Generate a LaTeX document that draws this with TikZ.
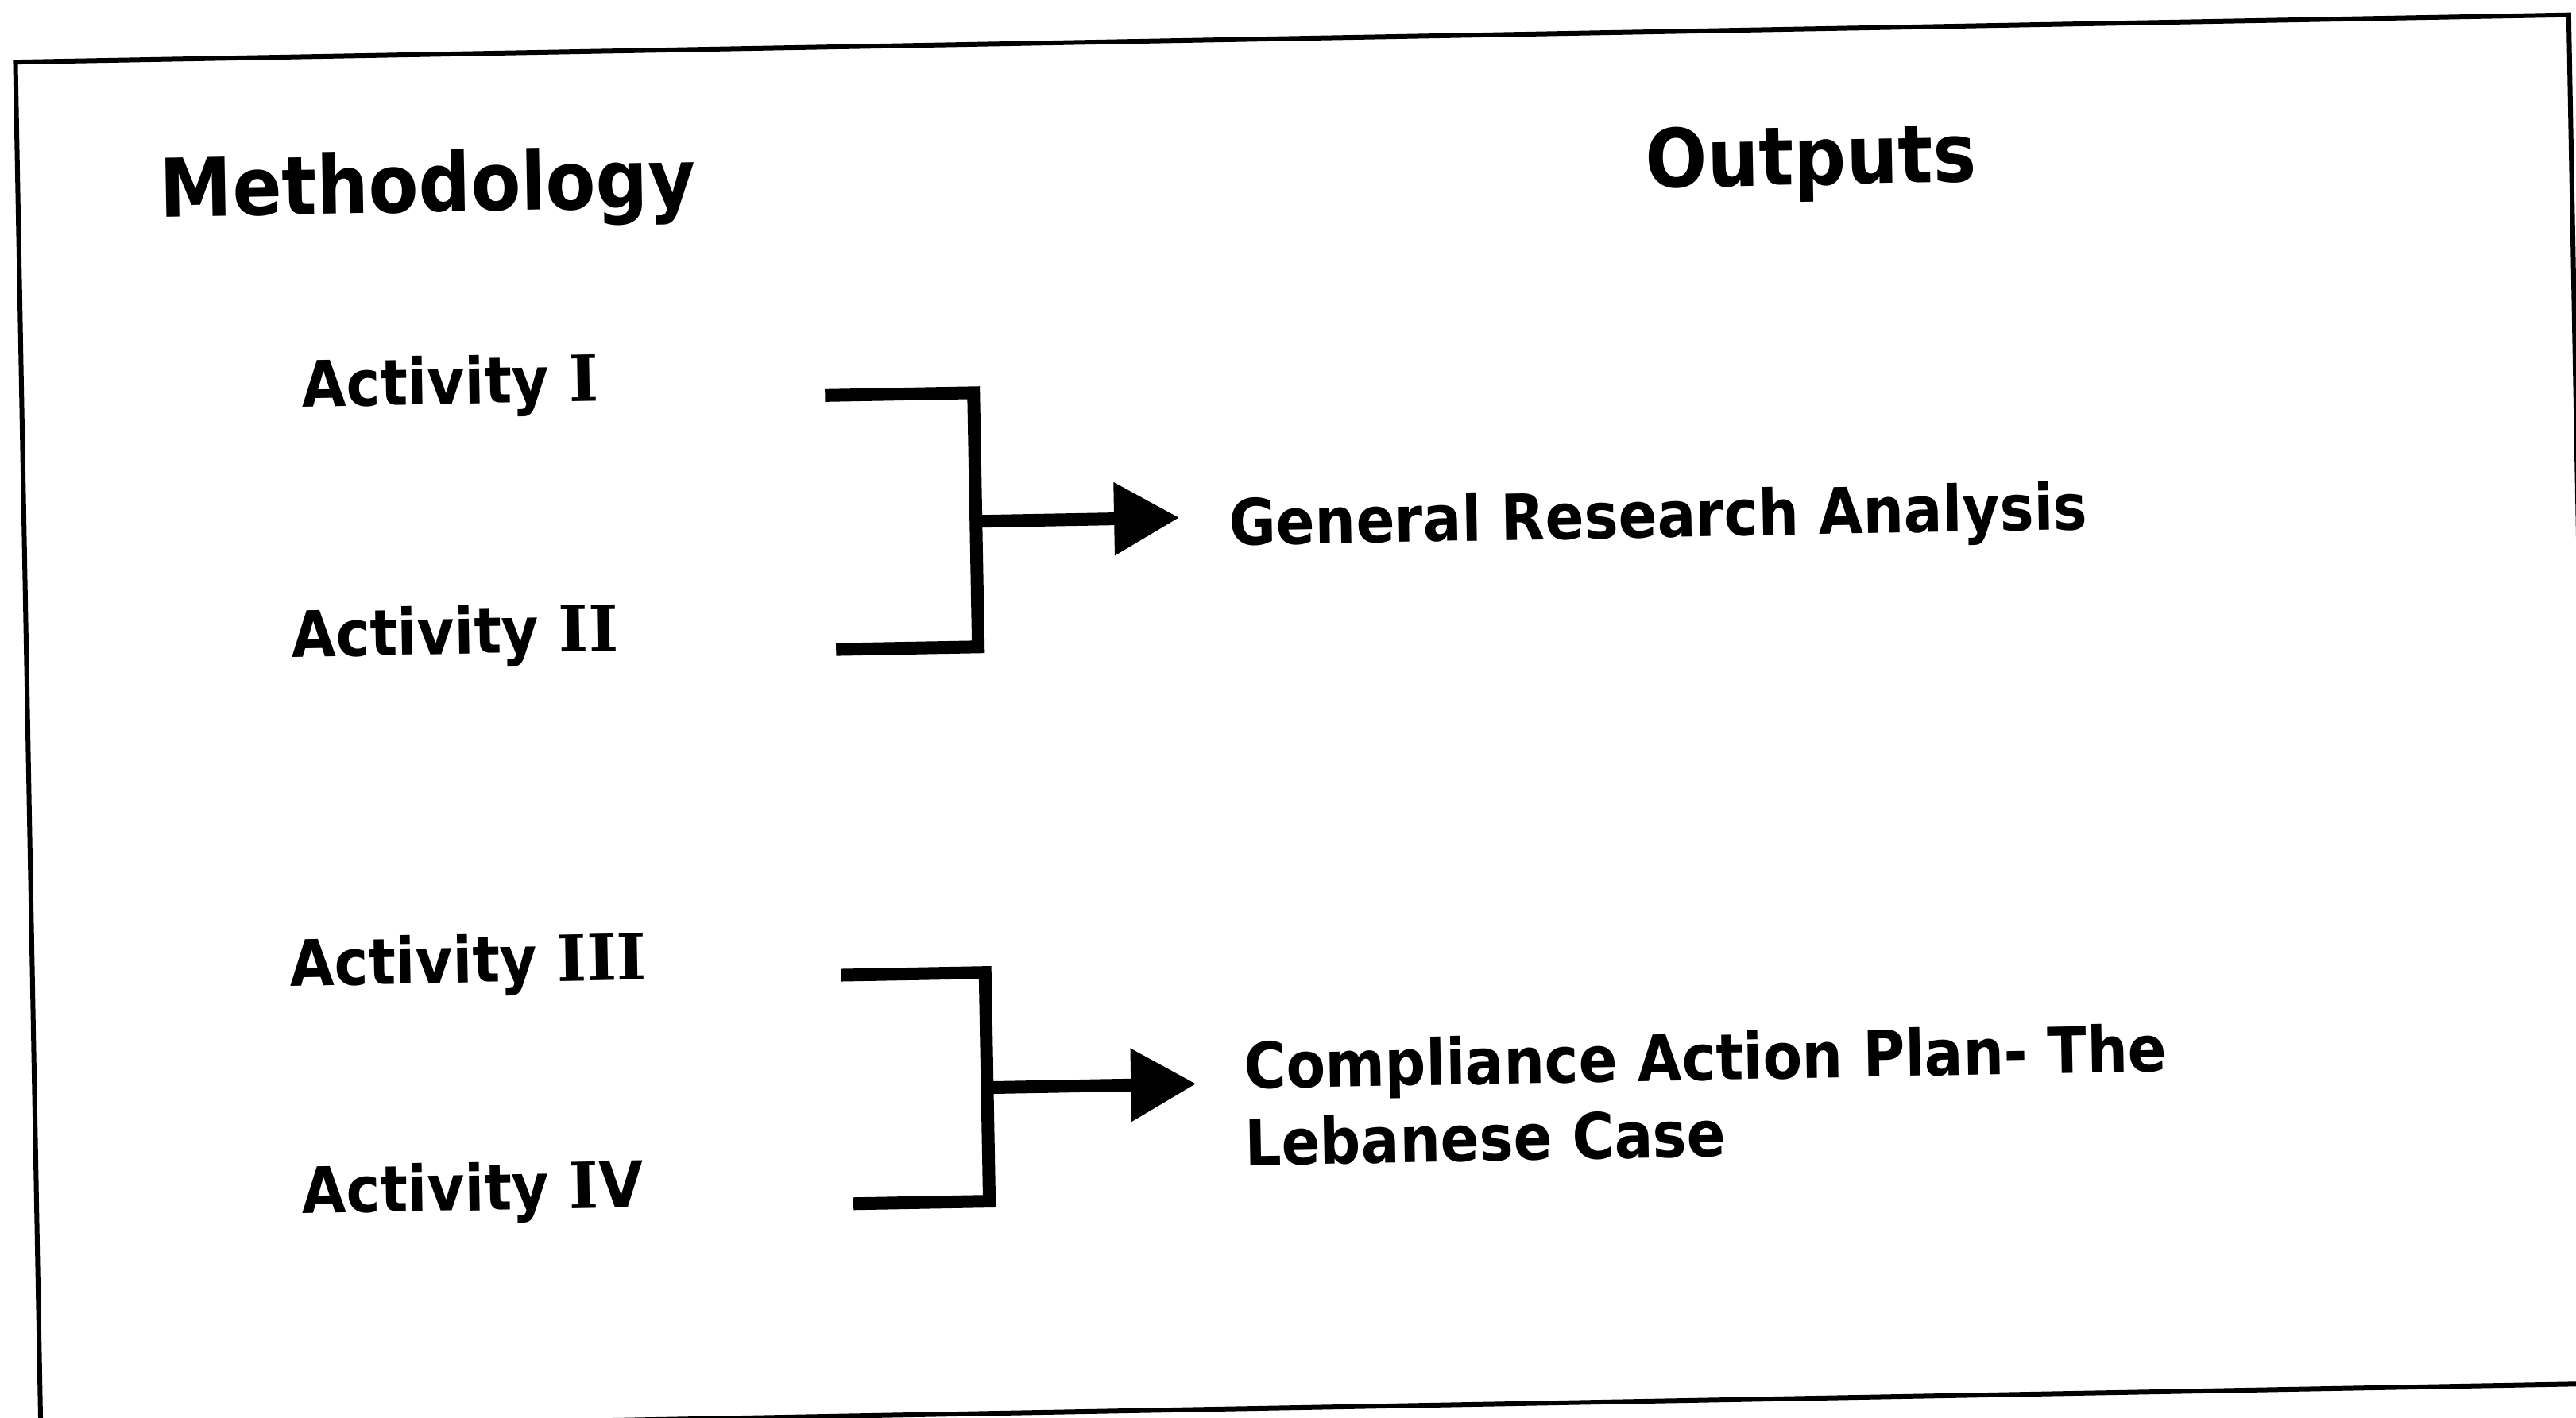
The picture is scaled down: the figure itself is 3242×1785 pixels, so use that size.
\documentclass[tikz,border=0pt]{standalone}
\usepackage{fontspec}
\newfontfamily\labfont{DejaVu Sans Condensed Bold}
\newfontfamily\serIfont{DejaVu Serif Bold}
\usetikzlibrary{arrows.meta}
\begin{document}
\begin{tikzpicture}[x=0.01cm,y=-0.01cm,
  head/.style={anchor=base west, inner sep=0pt, font=\labfont\fontsize{29}{34}\selectfont},
  lab/.style={anchor=base west, inner sep=0pt, font=\labfont\fontsize{22.8}{27.3}\selectfont},
  brk/.style={line width=0.16cm, line join=miter, line cap=butt},
  arr/.style={line width=0.16cm, -{Triangle[length=0.82cm,width=0.88cm]}},
  frm/.style={line width=0.06cm}]
\useasboundingbox (0,0) rectangle (3242,1785);
\clip (0,0) rectangle (3242,1785);
\fill[white] (0,0) rectangle (3242,1785);
\begin{scope}[rotate around={1.06:(0,0)}, transform shape]
  \draw[frm] (18,78.5) rectangle (3232,1802);
  % headings
  \node[head] (meth) at (196,276.7) {Methodology};
  \node[head] (outp) at (2066,274.8) {Outputs};
  % activities
  \node[lab] (act1) at (370.5,519) {Activity {\serIfont I}};
  \node[lab] (act2) at (351.7,833.8) {Activity {\serIfont II}};
  \node[lab] (act3) at (342,1247.8) {Activity {\serIfont III}};
  \node[lab] (act4) at (351.7,1534.6) {Activity {\serIfont I}V};
  % outputs
  \node[lab] (gra) at (1534,715) {General Research Analysis};
  \node[lab] (cap1) at (1540,1399) {Compliance Action Plan- The};
  \node[lab] (cap2) at (1539,1496) {Lebanese Case};
  % bracket 1
  \coordinate (t1) at (1029,517);
  \coordinate (c1t) at (1216,517);
  \coordinate (c1b) at (1216,837);
  \coordinate (b1) at (1037,837);
  \coordinate (m1) at (1216,679);
  \draw[brk] (t1) -- (c1t) -- (c1b) -- (b1);
  \draw[arr, shorten >=0.62cm] (m1) -- (m1 -| gra.west);
  % bracket 2
  \coordinate (t2) at (1036,1247);
  \coordinate (c2t) at (1217,1247);
  \coordinate (c2b) at (1217,1535);
  \coordinate (b2) at (1046,1535);
  \coordinate (m2) at (1217,1392);
  \draw[brk] (t2) -- (c2t) -- (c2b) -- (b2);
  \draw[arr, shorten >=0.60cm] (m2) -- (m2 -| cap1.west);
\end{scope}
\end{tikzpicture}
\end{document}
